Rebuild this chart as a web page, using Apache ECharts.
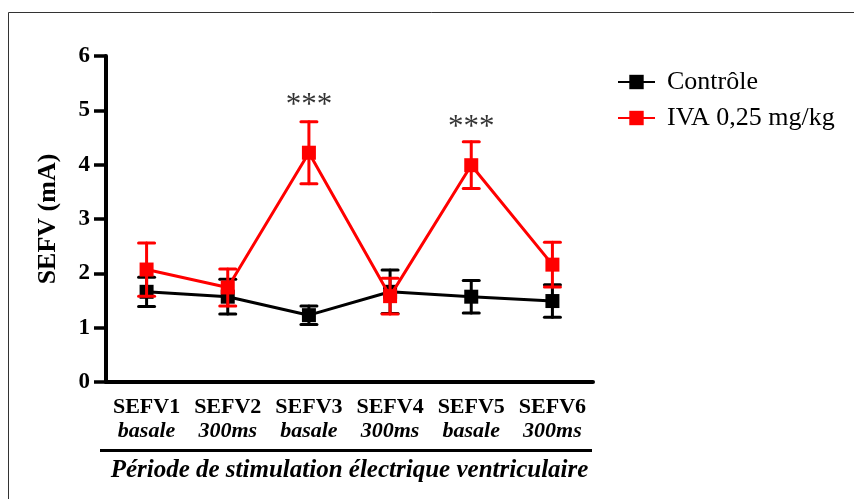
<!DOCTYPE html>
<html>
<head>
<meta charset="utf-8">
<script src="https://cdn.jsdelivr.net/npm/echarts@6/dist/echarts.min.js"></script>
<style>
  html, body { margin: 0; padding: 0; background: #fff; }
  #chart { width: 854px; height: 499px; }
</style>
</head>
<body>
<div id="chart"></div>
<script>
// Stimulation periods and their conditions (two-line category labels)
const periods = ['SEFV1', 'SEFV2', 'SEFV3', 'SEFV4', 'SEFV5', 'SEFV6'];
const conditions = ['basale', '300ms', 'basale', '300ms', 'basale', '300ms'];

// Mean threshold (mA) and SEM for each group
const controlMean = [1.66, 1.57, 1.23, 1.66, 1.57, 1.49];
const controlSem  = [0.27, 0.32, 0.17, 0.40, 0.30, 0.30];
const ivaMean = [2.07, 1.74, 4.22, 1.58, 3.99, 2.16];
const ivaSem  = [0.49, 0.34, 0.57, 0.33, 0.43, 0.41];

// Significance markers: period index and the level where the text sits
const sigIndex = [2, 4];
const sigLevel = [5.08, 4.68];
const sigText = '***';

const yTicks = [0, 1, 2, 3, 4, 5, 6];

const serif = 'Liberation Serif';

function errorData(mean, sem) {
  return mean.map((m, i) => [i, +(m - sem[i]).toFixed(3), +(m + sem[i]).toFixed(3)]);
}

function errorBars(color) {
  return function (params, api) {
    const x = api.value(0);
    const lo = api.coord([x, api.value(1)]);
    const hi = api.coord([x, api.value(2)]);
    const half = 8;
    const style = { stroke: color, lineWidth: 3, lineCap: 'round' };
    return {
      type: 'group',
      children: [
        { type: 'line', shape: { x1: hi[0], y1: hi[1], x2: lo[0], y2: lo[1] }, style: style },
        { type: 'line', shape: { x1: hi[0] - half, y1: hi[1], x2: hi[0] + half, y2: hi[1] }, style: style },
        { type: 'line', shape: { x1: lo[0] - half, y1: lo[1], x2: lo[0] + half, y2: lo[1] }, style: style }
      ]
    };
  };
}

const chart = echarts.init(document.getElementById('chart'));

chart.setOption({
  animation: false,
  backgroundColor: '#fff',
  grid: { left: 106, right: 261, top: 56, bottom: 117 },
  legend: {
    left: 612,
    top: 64,
    orient: 'vertical',
    itemWidth: 37,
    itemHeight: 18,
    itemGap: 10,
    data: ['Contrôle', 'IVA 0,25 mg/kg'],
    textStyle: { fontFamily: serif, fontSize: 26, color: '#000', padding: [0, 0, 0, 7] }
  },
  xAxis: {
    type: 'category',
    data: periods,
    name: 'Période de stimulation électrique ventriculaire',
    nameLocation: 'middle',
    nameGap: 76,
    nameTextStyle: { fontFamily: serif, fontSize: 25, fontWeight: 'bold', fontStyle: 'italic', color: '#000' },
    axisLine: { lineStyle: { color: '#000', width: 4 } },
    axisTick: { alignWithLabel: true, length: 10, lineStyle: { color: '#000', width: 3.5 } },
    axisLabel: {
      interval: 0,
      margin: 13,
      formatter: function (v, i) { return '{a|' + v + '}\n{b|' + conditions[i] + '}'; },
      rich: {
        a: { fontFamily: serif, fontSize: 22, fontWeight: 'bold', color: '#000', lineHeight: 24 },
        b: { fontFamily: serif, fontSize: 22, fontWeight: 'bold', fontStyle: 'italic', color: '#000', lineHeight: 24 }
      }
    }
  },
  yAxis: {
    type: 'value',
    min: yTicks[0],
    max: yTicks[yTicks.length - 1],
    interval: 1,
    name: 'SEFV (mA)',
    nameLocation: 'middle',
    nameGap: 45,
    nameTextStyle: { fontFamily: serif, fontSize: 26, fontWeight: 'bold', color: '#000' },
    axisLine: { show: true, lineStyle: { color: '#000', width: 4 } },
    axisTick: { show: true, length: 12, lineStyle: { color: '#000', width: 3.5 } },
    axisLabel: { margin: 16, fontFamily: serif, fontSize: 23, fontWeight: 'bold', color: '#000' },
    splitLine: { show: false }
  },
  graphic: [
    {
      type: 'rect',
      shape: { x: 8.5, y: 12.5, width: 900, height: 600 },
      style: { fill: 'none', stroke: '#333', lineWidth: 1 },
      silent: true
    },
    {
      type: 'line',
      shape: { x1: 100, y1: 450.5, x2: 592, y2: 450.5 },
      style: { stroke: '#000', lineWidth: 3 },
      silent: true
    }
  ],
  series: [
    {
      name: 'Contrôle',
      type: 'line',
      data: controlMean,
      symbol: 'rect',
      symbolSize: 14,
      color: '#000',
      lineStyle: { color: '#000', width: 3 },
      itemStyle: { color: '#000' },
      z: 3
    },
    {
      name: 'Contrôle',
      type: 'custom',
      data: errorData(controlMean, controlSem),
      encode: { x: 0, y: [1, 2] },
      renderItem: errorBars('#000'),
      z: 3
    },
    {
      name: 'IVA 0,25 mg/kg',
      type: 'line',
      data: ivaMean,
      symbol: 'rect',
      symbolSize: 14,
      color: '#ff0000',
      lineStyle: { color: '#ff0000', width: 3 },
      itemStyle: { color: '#ff0000' },
      z: 4
    },
    {
      name: 'IVA 0,25 mg/kg',
      type: 'custom',
      data: errorData(ivaMean, ivaSem),
      encode: { x: 0, y: [1, 2] },
      renderItem: errorBars('#ff0000'),
      z: 4
    },
    {
      type: 'scatter',
      data: sigIndex.map((idx, k) => [idx, sigLevel[k]]),
      symbolSize: 0,
      silent: true,
      label: {
        show: true,
        position: 'inside',
        formatter: sigText,
        fontFamily: serif,
        fontSize: 31,
        color: '#000'
      },
      z: 5
    }
  ]
});
</script>
</body>
</html>
